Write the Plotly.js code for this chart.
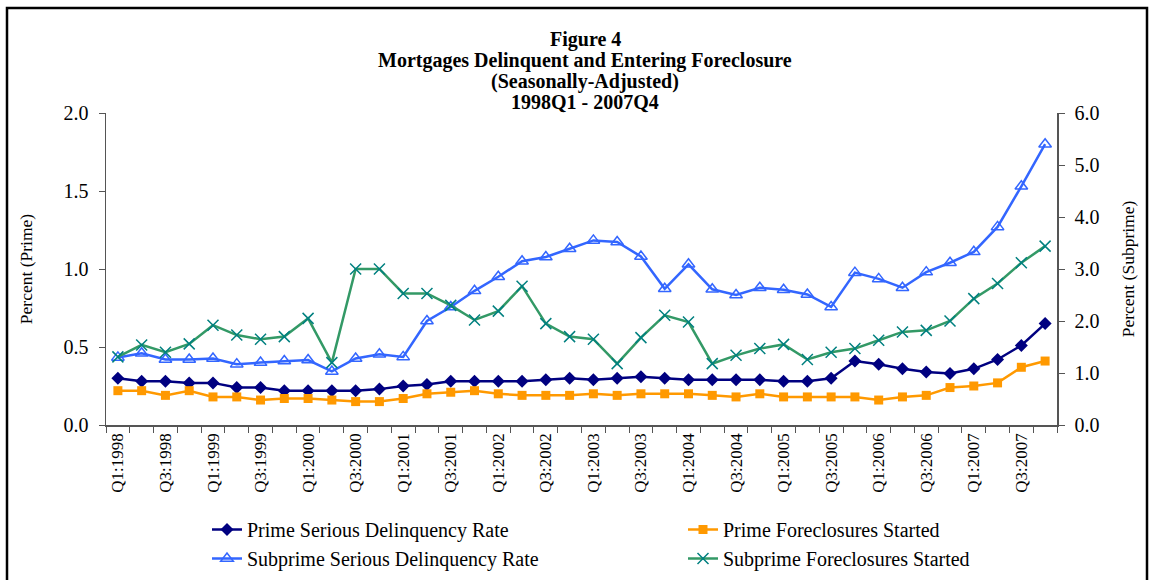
<!DOCTYPE html>
<html>
<head>
<meta charset="utf-8">
<script src="https://cdn.plot.ly/plotly-3.0.1.min.js"></script>
<style>html,body{margin:0;padding:0;background:#fff;}#chart{width:1151px;height:580px;}</style>
</head>
<body>
<div id="chart"></div>
<script>
var quarters = ['1998Q1','1998Q2','1998Q3','1998Q4','1999Q1','1999Q2','1999Q3','1999Q4',
  '2000Q1','2000Q2','2000Q3','2000Q4','2001Q1','2001Q2','2001Q3','2001Q4',
  '2002Q1','2002Q2','2002Q3','2002Q4','2003Q1','2003Q2','2003Q3','2003Q4',
  '2004Q1','2004Q2','2004Q3','2004Q4','2005Q1','2005Q2','2005Q3','2005Q4',
  '2006Q1','2006Q2','2006Q3','2006Q4','2007Q1','2007Q2','2007Q3','2007Q4'];
var tickLabels = ['Q1:1998','','Q3:1998','','Q1:1999','','Q3:1999','',
  'Q1:2000','','Q3:2000','','Q1:2001','','Q3:2001','',
  'Q1:2002','','Q3:2002','','Q1:2003','','Q3:2003','',
  'Q1:2004','','Q3:2004','','Q1:2005','','Q3:2005','',
  'Q1:2006','','Q3:2006','','Q1:2007','','Q3:2007',''];
var primeSeriousDelinq = [0.30,0.28,0.28,0.27,0.27,0.24,0.24,0.22,0.22,0.22,0.22,0.23,0.25,0.26,0.28,0.28,
  0.28,0.28,0.29,0.30,0.29,0.30,0.31,0.30,0.29,0.29,0.29,0.29,0.28,0.28,0.30,0.41,0.39,0.36,0.34,0.33,0.36,0.42,0.51,0.65];
var primeForeclosures = [0.22,0.22,0.19,0.22,0.18,0.18,0.16,0.17,0.17,0.16,0.15,0.15,0.17,0.20,0.21,0.22,
  0.20,0.19,0.19,0.19,0.20,0.19,0.20,0.20,0.20,0.19,0.18,0.20,0.18,0.18,0.18,0.18,0.16,0.18,0.19,0.24,0.25,0.27,0.37,0.41];
var subprimeSeriousDelinq = [1.30,1.38,1.26,1.26,1.28,1.17,1.20,1.23,1.25,1.03,1.28,1.36,1.31,2.00,2.27,2.58,
  2.85,3.15,3.23,3.39,3.55,3.52,3.24,2.62,3.09,2.61,2.50,2.64,2.60,2.51,2.27,2.93,2.81,2.64,2.94,3.12,3.33,3.81,4.59,5.40];
var subprimeForeclosures = [1.31,1.54,1.40,1.56,1.92,1.73,1.65,1.70,2.05,1.20,3.00,3.00,2.53,2.53,2.30,2.02,
  2.19,2.67,1.95,1.70,1.65,1.18,1.68,2.11,1.98,1.18,1.34,1.47,1.55,1.26,1.40,1.47,1.63,1.79,1.82,2.00,2.43,2.72,3.12,3.44];
var titleLines = ['Figure 4', 'Mortgages Delinquent and Entering Foreclosure', '(Seasonally-Adjusted)', '1998Q1 - 2007Q4'];

var serif = 'Liberation Serif, Times New Roman, serif';

var traces = [
  {x: quarters, y: primeSeriousDelinq, name: 'Prime Serious Delinquency Rate', type: 'scatter', mode: 'lines+markers',
   line: {color: '#000080', width: 2.5}, marker: {symbol: 'diamond', size: 10, color: '#000080'}, yaxis: 'y', legend: 'legend'},
  {x: quarters, y: primeForeclosures, name: 'Prime Foreclosures Started', type: 'scatter', mode: 'lines+markers',
   line: {color: '#FF9900', width: 2.5}, marker: {symbol: 'square', size: 9, color: '#FF9900'}, yaxis: 'y', legend: 'legend2'},
  {x: quarters, y: subprimeSeriousDelinq, name: 'Subprime Serious Delinquency Rate', type: 'scatter', mode: 'lines+markers',
   line: {color: '#3366FF', width: 2.5}, marker: {symbol: 'triangle-up-open', size: 11, color: '#3366FF', line: {width: 1.5}}, yaxis: 'y2', legend: 'legend'},
  {x: quarters, y: subprimeForeclosures, name: 'Subprime Foreclosures Started', type: 'scatter', mode: 'lines+markers',
   line: {color: '#339966', width: 2.5}, marker: {symbol: 'x-thin-open', size: 11, color: '#008080', line: {width: 1.5, color: '#008080'}}, yaxis: 'y2', legend: 'legend2'}
];

var L = 106, R = 94, T = 113, B = 155;
var W = 1151 - L - R, H = 580 - T - B;
function px(x) { return (x - L) / W; }
function py(y) { return (580 - B - y) / H; }

var titleY = [40, 61, 82, 102];
var annotations = titleLines.map(function (t, i) {
  return {text: '<b>' + t + '</b>', xref: 'paper', yref: 'paper', x: px(585), y: py(titleY[i]),
    xanchor: 'center', yanchor: 'middle', showarrow: false,
    font: {family: serif, size: 20, color: '#000000'}};
});

var legendFont = {family: serif, size: 20, color: '#000000'};
var layout = {
  width: 1151, height: 580,
  margin: {l: L, r: R, t: T, b: B, autoexpand: false},
  paper_bgcolor: '#ffffff', plot_bgcolor: '#ffffff',
  font: {family: serif, color: '#000000', size: 17},
  showlegend: true,
  legend: {
    orientation: 'v', x: px(207), y: py(510), xanchor: 'left', yanchor: 'top',
    font: legendFont, bgcolor: 'rgba(0,0,0,0)', traceorder: 'normal', tracegroupgap: 0
  },
  legend2: {
    orientation: 'v', x: px(683), y: py(510), xanchor: 'left', yanchor: 'top',
    font: legendFont, bgcolor: 'rgba(0,0,0,0)', traceorder: 'normal', tracegroupgap: 0
  },
  xaxis: {
    type: 'category', categoryorder: 'array', categoryarray: quarters,
    tickmode: 'array', tickvals: quarters, ticktext: tickLabels,
    tickson: 'boundaries', ticks: 'outside', ticklen: 6, tickcolor: '#555555', tickwidth: 1,
    tickangle: -90, tickfont: {family: serif, size: 17, color: '#000000'},
    showline: true, linecolor: '#555555', linewidth: 1.5, showgrid: false, zeroline: false,
    range: [-0.5, 39.5], automargin: false
  },
  yaxis: {
    range: [0, 2], dtick: 0.5, tick0: 0, tickformat: '.1f',
    ticks: 'outside', ticklen: 6, tickcolor: '#555555', showline: true, linecolor: '#555555', linewidth: 1.5,
    showgrid: false, zeroline: false, tickfont: {family: serif, size: 20, color: '#000000'}, automargin: false,
    ticklabelstandoff: 6,
    title: {text: 'Percent (Prime)', font: {family: serif, size: 17.5, color: '#000000'}, standoff: 26}
  },
  yaxis2: {
    overlaying: 'y', side: 'right', range: [0, 6], dtick: 1, tick0: 0, tickformat: '.1f',
    ticks: 'outside', ticklen: 6, tickcolor: '#555555', showline: true, linecolor: '#555555', linewidth: 1.5,
    showgrid: false, zeroline: false, tickfont: {family: serif, size: 20, color: '#000000'}, automargin: false,
    ticklabelstandoff: 6,
    title: {text: 'Percent (Subprime)', font: {family: serif, size: 17.5, color: '#000000'}, standoff: 23}
  },
  annotations: annotations,
  shapes: [
    {type: 'rect', xref: 'paper', yref: 'paper', x0: px(7), x1: px(1147), y0: py(620), y1: py(8),
     line: {color: '#000000', width: 2.5}, fillcolor: 'rgba(0,0,0,0)', layer: 'above'}
  ]
};

Plotly.newPlot('chart', traces, layout, {displayModeBar: false, staticPlot: true});
</script>
</body>
</html>
